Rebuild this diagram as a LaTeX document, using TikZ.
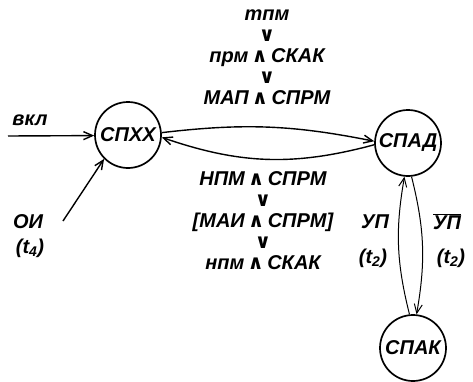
\documentclass[tikz,border=0pt]{standalone}
\usepackage{fontspec}
\setmainfont{Liberation Sans}
\newfontfamily\symf{DejaVu Sans}
\usepackage{tikz}
\usetikzlibrary{arrows.meta}
\newcommand{\lbl}{\fontsize{20}{21}\selectfont\bfseries\itshape}
\newcommand{\ili}{{\symf\fontsize{20}{21}\selectfont\bfseries\upshape ∨}}
\newcommand{\ii}{\,{\symf\fontsize{20}{21}\selectfont\bfseries\upshape ∧}\,}
\tikzset{
	sost/.style={draw, circle, line width=1.7pt, minimum size=66pt, inner sep=0pt, font=\lbl},
	perehod/.style={line width=1.4pt, -{Straight Barb[length=9pt,width=8pt]}},
	metka/.style={font=\lbl, align=center, inner sep=0pt},
}

\begin{document}
\begin{tikzpicture}[x=1pt,y=1pt]
			%%%%% START %%%%%
			\useasboundingbox (0,0) rectangle (473,381);
			
			\node[sost] (spxx) at (128,246) {СПХХ};
			\node[sost] (spad) at (408,238) {СПАД};
			\node[sost] (spak) at (413,33) {СПАК};
			
			\coordinate (vkl) at (8,245);
			\coordinate (oi) at (63,160);
			
			\draw[perehod] (vkl) -- (spxx.181);
			\draw[perehod] (oi) -- (spxx.-135);
			
			\draw[perehod] (spxx.4) to[bend left=9] (spad.177);
			\draw[perehod] (spad.183) to[bend left=17] (spxx.-4);
			
			\draw[perehod, line width=1pt] (spak.96) to[bend left=12] (spad.-96);
			\draw[perehod, line width=1pt] (spad.-84) to[bend left=12] (spak.84);
			
			\node[metka] (vkllbl) at (30,261) {вкл};
			\node[metka] (oilbl) at (28,159) {ОИ};
			\node[metka] (t4) at (30,133) {(t\textsubscript{4})};
			
			\node[metka] (verh) at (267,324)
				{тпм\\\ili\\прм\ii СКАК\\\ili\\МАП\ii СПРМ};
			\node[metka] (niz) at (263,160)
				{НПМ\ii СПРМ\\\ili\\{[}МАИ\ii СПРМ{]}\\\ili\\нпм\ii СКАК};
			
			\node[metka] (up) at (375,159) {УП};
			\node[metka] (t2a) at (373,123) {(t\textsubscript{2})};
			\node[metka] (neup) at (447,159) {$\overline{\mbox{УП}}$};
			\node[metka] (t2b) at (451,123) {(t\textsubscript{2})};
			
			%%%%% END %%%%%
\end{tikzpicture}
\end{document}
